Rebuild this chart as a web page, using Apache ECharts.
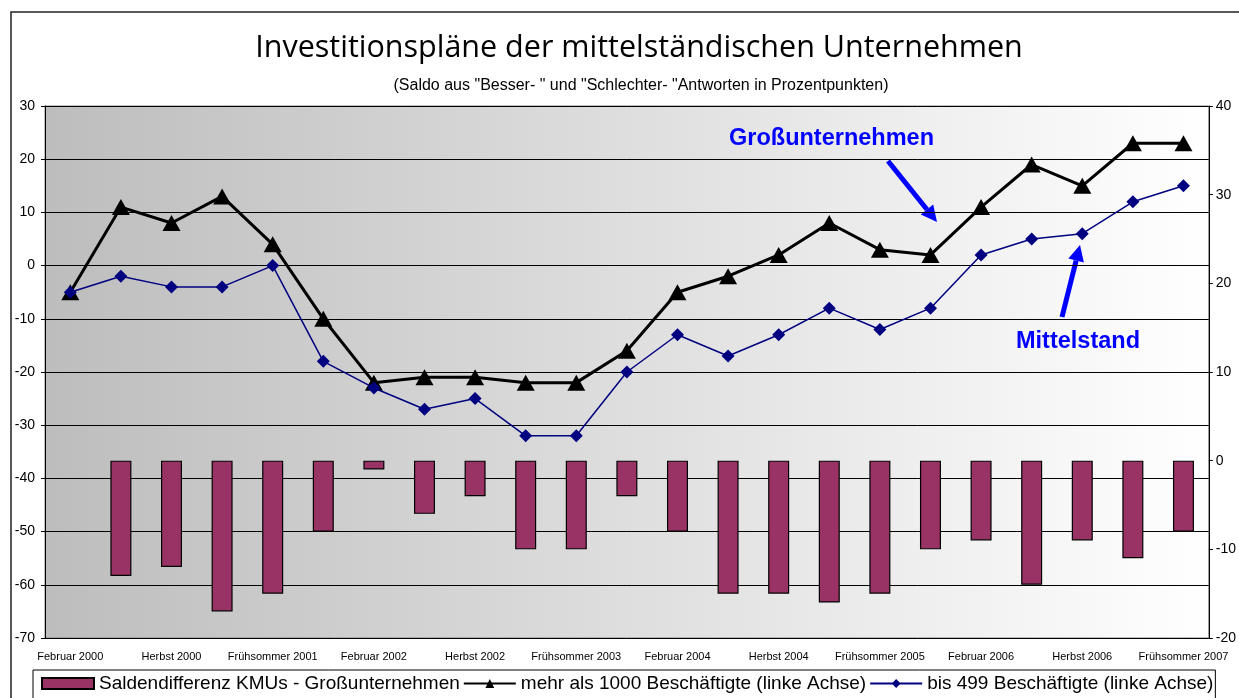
<!DOCTYPE html>
<html>
<head>
<meta charset="utf-8">
<script src="https://cdn.jsdelivr.net/npm/echarts@6/dist/echarts.min.js"></script>
<style>
  html, body { margin: 0; padding: 0; background: #fff; }
  #chart { width: 1239px; height: 698px; }
</style>
</head>
<body>
<div id="chart"></div>
<script>
// Kategorien: drei Erhebungen pro Jahr
const categories = [
  "Februar 2000", "Frühsommer 2000", "Herbst 2000",
  "Februar 2001", "Frühsommer 2001", "Herbst 2001",
  "Februar 2002", "Frühsommer 2002", "Herbst 2002",
  "Februar 2003", "Frühsommer 2003", "Herbst 2003",
  "Februar 2004", "Frühsommer 2004", "Herbst 2004",
  "Februar 2005", "Frühsommer 2005", "Herbst 2005",
  "Februar 2006", "Frühsommer 2006", "Herbst 2006",
  "Februar 2007", "Frühsommer 2007"
];

// Saldendifferenz (rechte Achse), erster Wert ohne Balken
const saldoDiff = [null, -13, -12, -17, -15, -8, -1, -6, -4, -10, -10, -4, -8, -15, -15, -16, -15, -10, -9, -14, -9, -11, -8];
// mehr als 1000 Beschäftigte (linke Achse)
const gross = [-5, 11, 8, 13, 4, -10, -22, -21, -21, -22, -22, -16, -5, -2, 2, 8, 3, 2, 11, 19, 15, 23, 23];
// bis 499 Beschäftigte (linke Achse)
const mittel = [-5, -2, -4, -4, 0, -18, -23, -27, -25, -32, -32, -20, -13, -17, -13, -8, -12, -8, 2, 5, 6, 12, 15];

const chart = echarts.init(document.getElementById("chart"));

/**
 * Pfeil als Grafik (Linie + Spitze)
 */
const arrow = (x1, y1, x2, y2) => {
  const ang = Math.atan2(y2 - y1, x2 - x1);
  const headLen = 16, headHalf = 8;
  const bx = x2 - headLen * Math.cos(ang), by = y2 - headLen * Math.sin(ang);
  const px = -Math.sin(ang), py = Math.cos(ang);
  return {
    type: "group",
    z: 50,
    children: [
      {
        type: "line",
        shape: { x1: x1, y1: y1, x2: bx, y2: by },
        style: { stroke: "#0000ff", lineWidth: 5 },
      },
      {
        type: "polygon",
        shape: {
          points: [
            [x2, y2],
            [bx + px * headHalf, by + py * headHalf],
            [bx - px * headHalf, by - py * headHalf],
          ],
        },
        style: { fill: "#0000ff" },
      },
    ],
  };
};

const axisFont = "'Liberation Sans', Arial, sans-serif";

const option = {
  animation: false,
  backgroundColor: "#fff",
  title: [
    {
      text: "Investitionspläne der mittelständischen Unternehmen",
      left: 634,
      textAlign: "center",
      top: 28,
      textStyle: { fontFamily: "'Open Sans', 'Noto Sans', sans-serif", fontSize: 30.5, fontWeight: "normal", color: "#000" },
    },
    {
      text: '(Saldo aus "Besser- " und "Schlechter- "Antworten in Prozentpunkten)',
      left: 636,
      textAlign: "center",
      top: 73,
      textStyle: { fontFamily: axisFont, fontSize: 16, fontWeight: "normal", color: "#000" },
    },
  ],
  grid: {
    left: 45,
    right: 29,
    top: 106,
    bottom: 60,
    show: true,
    borderColor: "#808080",
    borderWidth: 1,
    backgroundColor: new echarts.graphic.LinearGradient(0, 0, 1, 0, [
      { offset: 0, color: "#bdbdbd" },
      { offset: 1, color: "#ffffff" },
    ]),
  },
  legend: {
    left: 33,
    top: 670,
    padding: [4, 2, 8, 8],
    borderColor: "#000",
    borderWidth: 1,
    itemGap: 3,
    itemWidth: 52,
    itemHeight: 11,
    textStyle: { fontFamily: axisFont, fontSize: 19, color: "#000" },
    data: [
      { name: "Saldendifferenz KMUs - Großunternehmen", icon: "rect" },
      { name: "mehr als 1000 Beschäftigte (linke Achse)" },
      { name: "bis 499 Beschäftigte (linke Achse)" },
    ],
  },
  xAxis: {
    type: "category",
    data: categories,
    boundaryGap: true,
    axisLine: { lineStyle: { color: "#000", width: 1 } },
    axisTick: { interval: 0, length: 5, lineStyle: { color: "#000" } },
    axisLabel: { interval: 1, fontFamily: axisFont, fontSize: 11, color: "#000", margin: 13 },
  },
  yAxis: [
    {
      type: "value",
      min: -70,
      max: 30,
      interval: 10,
      axisLine: { show: true, lineStyle: { color: "#000" } },
      axisTick: { show: true, length: 4, lineStyle: { color: "#000" } },
      axisLabel: { fontFamily: axisFont, fontSize: 14, color: "#000", margin: 10 },
      splitLine: { lineStyle: { color: "#000", width: 1 } },
    },
    {
      type: "value",
      min: -20,
      max: 40,
      interval: 10,
      position: "right",
      axisLine: { show: true, lineStyle: { color: "#000" } },
      axisTick: { show: true, length: 4, lineStyle: { color: "#000" } },
      axisLabel: { fontFamily: axisFont, fontSize: 14, color: "#000", margin: 7 },
      splitLine: { show: false },
    },
  ],
  series: [
    {
      name: "Saldendifferenz KMUs - Großunternehmen",
      type: "bar",
      yAxisIndex: 1,
      barWidth: 21,
      data: saldoDiff,
      itemStyle: { color: "#993366", borderColor: "#000", borderWidth: 1.2 },
    },
    {
      name: "mehr als 1000 Beschäftigte (linke Achse)",
      type: "line",
      yAxisIndex: 0,
      data: gross,
      symbol: "triangle",
      symbolSize: [18, 16],
      lineStyle: { color: "#000", width: 3 },
      itemStyle: { color: "#000" },
      z: 3,
    },
    {
      name: "bis 499 Beschäftigte (linke Achse)",
      type: "line",
      yAxisIndex: 0,
      data: mittel,
      symbol: "diamond",
      symbolSize: 13,
      lineStyle: { color: "#000080", width: 1.5 },
      itemStyle: { color: "#000080" },
      z: 4,
    },
  ],
  graphic: [
    {
      type: "rect",
      shape: { x: 11, y: 12, width: 1260, height: 720 },
      style: { fill: "none", stroke: "#222", lineWidth: 1.5 },
      silent: true,
      z: 100,
    },
    {
      type: "text",
      left: 729,
      top: 127,
      style: { text: "Großunternehmen", fill: "#0000ff", font: "bold 23.5px 'Liberation Sans', Arial, sans-serif" },
      z: 50,
    },
    {
      type: "text",
      left: 1016,
      top: 330,
      style: { text: "Mittelstand", fill: "#0000ff", font: "bold 23.5px 'Liberation Sans', Arial, sans-serif" },
      z: 50,
    },
    arrow(888, 161, 937, 222),
    arrow(1062, 317, 1080, 245),
  ],
};

chart.setOption(option);
</script>
</body>
</html>
